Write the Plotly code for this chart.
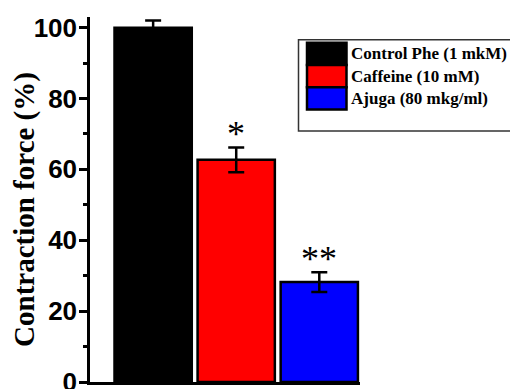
import plotly.graph_objects as go

# ---- data ----
categories = ["Control Phe (1 mkM)", "Caffeine (10 mM)", "Ajuga (80 mkg/ml)"]
values = [100.0, 62.7, 28.2]
errors = [2.0, 3.5, 2.8]
significance = ["", "*", "**"]
bar_colors = ["#000000", "#ff0000", "#0000ff"]
y_ticks = [0, 20, 40, 60, 80, 100]

OFF = 8  # page body margin
W, H = 518 - OFF, 389
# plot area in page pixels: x 90..360, y 17..384
ML = 90 - OFF
MT = 17 - OFF
MB = H - (384 - OFF)
MR = 0
PW = W - ML - MR
PH = H - MT - MB


def px_x(p):
    return (p - OFF - ML) / PW


def px_y(p):
    return (H - MB - (p - OFF)) / PH


xpos = list(range(len(categories)))

fig = go.Figure()
fig.add_trace(go.Bar(
    x=xpos, y=values, width=0.93,
    marker=dict(color=bar_colors, line=dict(color="black", width=2.5)),
    error_y=dict(type="data", array=errors, visible=True, color="black",
                 thickness=2.5, width=8),
    showlegend=False,
))

annotations = []
for i, (v, e, s) in enumerate(zip(values, errors, significance)):
    if s:
        annotations.append(dict(
            x=i, y=v + e, xref="x", yref="y", text=s, showarrow=False,
            yanchor="bottom", yshift=-9,
            font=dict(family="Liberation Serif", size=36, color="black"),
        ))

# y axis title
annotations.append(dict(
    x=px_x(25), y=px_y(211), xref="paper", yref="paper",
    text="Contraction force (%)", textangle=-90, showarrow=False,
    xanchor="center", yanchor="middle",
    font=dict(family="Liberation Serif", size=29, color="black", weight="bold"),
))

# custom legend
shapes = []
shapes.append(dict(type="rect", xref="paper", yref="paper",
                   x0=px_x(298.5), x1=px_x(516), y0=px_y(131.5), y1=px_y(40),
                   line=dict(color="#333333", width=1.5), fillcolor="white",
                   layer="above"))
row_top = 43
row_h = 22.3
for i, (c, col) in enumerate(zip(categories, bar_colors)):
    y0 = row_top + i * row_h
    y1 = y0 + row_h
    shapes.append(dict(type="rect", xref="paper", yref="paper",
                       x0=px_x(307), x1=px_x(346.5), y0=px_y(y1), y1=px_y(y0),
                       line=dict(color="black", width=2.5), fillcolor=col,
                       layer="above"))
    annotations.append(dict(
        x=px_x(349), y=px_y((y0 + y1) / 2), xref="paper", yref="paper",
        text=c, showarrow=False, xanchor="left", yanchor="middle",
        font=dict(family="Liberation Serif", size=17, color="black", weight="bold"),
    ))

fig.update_layout(
    width=W, height=H,
    margin=dict(l=ML, r=MR, t=MT, b=MB, pad=0),
    plot_bgcolor="white", paper_bgcolor="white",
    shapes=shapes, annotations=annotations,
    xaxis=dict(domain=[0, px_x(360)], range=[-0.76, 2.49], showline=True,
               linecolor="black", linewidth=2.5, showticklabels=False,
               ticks="", showgrid=False, zeroline=False),
    yaxis=dict(range=[0, 103], showline=True, linecolor="black", linewidth=2.5,
               tickvals=y_ticks, ticks="outside", ticklen=8, tickwidth=2.5,
               tickcolor="black", showgrid=False, zeroline=False,
               ticklabelstandoff=-3, ticklabeloverflow="allow",
               tickfont=dict(family="Liberation Sans", size=26, color="black", weight="bold"),
               minor=dict(dtick=10, ticks="outside", ticklen=4, tickwidth=2.5,
                          tickcolor="black", showgrid=False)),
)

fig.write_html("out.html")
